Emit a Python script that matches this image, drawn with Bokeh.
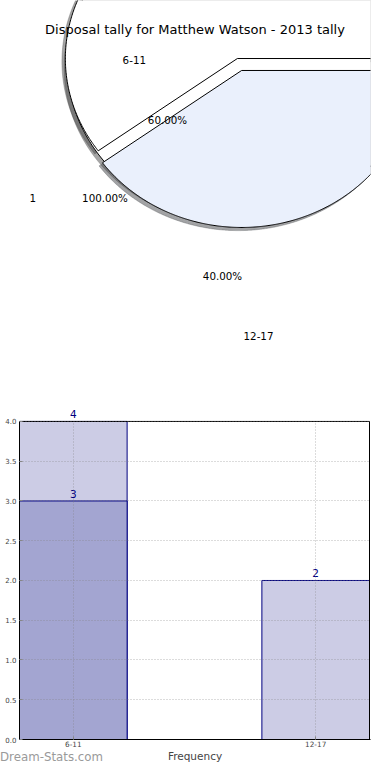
import numpy as np
from bokeh.plotting import figure
from bokeh.models import (ColumnDataSource, Range1d, FixedTicker, LabelSet, Div,
                          NumeralTickFormatter)
from bokeh.layouts import column
from bokeh.embed import file_html
from bokeh.resources import INLINE
from bokeh.core.properties import value

# ---------------- data ----------------
title_text = "Disposal tally for Matthew Watson - 2013 tally"
base_pie_labels = ["1"]
base_pie_values = [1]
base_pie_pct = ["100.00%"]
pie_labels = ["6-11", "12-17"]
pie_values = [3, 2]
pie_pct = ["60.00%", "40.00%"]
pie_colors = ["#FFFFFF", "#EAF0FC"]

bar_categories = ["6-11", "12-17"]
bar_light_values = [4, 2]
bar_dark_values = [3, 0]
y_ticks = [0.0, 0.5, 1.0, 1.5, 2.0, 2.5, 3.0, 3.5, 4.0]
x_label = "Frequency"
watermark = "Dream-Stats.com"

FONT = "DejaVu Sans"

# ---------------- layout constants (pixels) ----------------
W = 374
TOTAL_H = 764
FRAME_L, FRAME_R = 19, 370          # plot frame left / right
AX_TOP, AX_BOT = 421, 740           # y = max tick / y = 0
HEADROOM = 17                       # room above the axes box for value labels
H1 = AX_TOP - HEADROOM              # pie figure height
H2 = TOTAL_H - H1

# ---------------- pie figure ----------------
p1 = figure(width=W, height=H1, x_range=Range1d(FRAME_L, FRAME_R), y_range=Range1d(H1, 0),
            output_backend="svg", toolbar_location=None,
            min_border_left=FRAME_L, min_border_right=W - FRAME_R, min_border_top=0,
            min_border_bottom=0, x_axis_type=None, y_axis_type=None, outline_line_color=None)
p1.grid.visible = False

CX, CY, RA, RB = 239.0, 64.0, 172.0, 157.0
EXPLODE = 0.04
SH_DX, SH_DY = -0.02 * RA, 0.02 * RB


def wedge_polys(values, explode):
    vals = np.asarray(values, float)
    fr = vals / vals.sum()
    bounds = np.concatenate([[0.0], np.cumsum(fr)]) * 2 * np.pi
    xs, ys = [], []
    for t0, t1 in zip(bounds[:-1], bounds[1:]):
        mid = 0.5 * (t0 + t1)
        ox = CX + explode * RA * np.cos(mid)
        oy = CY - explode * RB * np.sin(mid)
        t = np.linspace(t0, t1, 400)
        px = ox + RA * np.cos(t)
        py = oy - RB * np.sin(t)
        if (t1 - t0) < 2 * np.pi - 1e-9:
            px = np.concatenate([[ox], px])
            py = np.concatenate([[oy], py])
        xs.append(px.tolist())
        ys.append(py.tolist())
    return xs, ys


def shade(c):
    c = c.lstrip("#")
    r, g, b = (int(c[i:i + 2], 16) for i in (0, 2, 4))
    return "#%02x%02x%02x" % (int(0.3 * r), int(0.3 * g), int(0.3 * b))


bx, by = wedge_polys(base_pie_values, 0.0)
wx, wy = wedge_polys(pie_values, EXPLODE)

# shadows (drawn under every wedge)
sh_xs = [[v + SH_DX for v in xx] for xx in bx + wx]
sh_ys = [[v + SH_DY for v in yy] for yy in by + wy]
sh_cols = [shade("#FFFFFF")] + [shade(c) for c in pie_colors]
p1.patches(xs="xs", ys="ys", fill_color="c", fill_alpha=0.5, line_color="c", line_alpha=0.3,
           line_width=1, source=ColumnDataSource(dict(xs=sh_xs, ys=sh_ys, c=sh_cols)))

p1.patches(xs=bx, ys=by, fill_color="#FFFFFF", line_color="black", line_width=1)
p1.patches(xs="xs", ys="ys", fill_color="c", line_color="black", line_width=1,
           source=ColumnDataSource(dict(xs=wx, ys=wy, c=pie_colors)))

# pie texts (positions as drawn in the original)
txt = base_pie_labels + base_pie_pct + pie_labels + pie_pct
txt_x = [32.3, 104.5, 133.8, 258.0, 167.0, 222.0]
txt_y = [197.0, 197.0, 59.8, 335.3, 119.3, 275.8]
p1.text(x=txt_x, y=txt_y, text=txt, text_font=value(FONT), text_font_size="10.3px",
        text_align="center", text_baseline="alphabetic", text_color="black")
p1.text(x=[194.5], y=[29.3], text=[title_text], text_font=value(FONT), text_font_size="13px",
        text_align="center", text_baseline="alphabetic", text_color="black")

# ---------------- bar figure ----------------
BAR_W = 0.444
pos = np.arange(len(bar_categories), dtype=float)
ymax = max(y_ticks)
px_per_unit = (AX_BOT - AX_TOP) / ymax
x0 = pos[0] - BAR_W / 2
x1 = pos[-1] + BAR_W / 2
x_pad = (x1 - x0) / (FRAME_R - FRAME_L)   # about one pixel
p2 = figure(width=W, height=H2,
            x_range=Range1d(x0, x1 + x_pad),
            y_range=Range1d(0, ymax + HEADROOM / px_per_unit),
            output_backend="svg", toolbar_location=None,
            min_border_left=FRAME_L, min_border_right=W - FRAME_R, min_border_top=0,
            min_border_bottom=H1 + H2 - AX_BOT,
            outline_line_color=None)

p2.vbar(x=pos, top=bar_light_values, width=BAR_W, fill_color="#CCCCE5",
        line_color="#000080", line_width=1)
dark_idx = [i for i, v in enumerate(bar_dark_values) if v > 0]
p2.vbar(x=[pos[i] for i in dark_idx], top=[bar_dark_values[i] for i in dark_idx], width=BAR_W,
        fill_color="#A3A5D1", line_color="#000080", line_width=1)

# axes box (0 .. max tick)
p2.quad(left=[x0], right=[x1], bottom=[0], top=[ymax], fill_color=None,
        line_color="black", line_width=1)

lab_x = list(pos) + [pos[i] for i in dark_idx]
lab_y = list(bar_light_values) + [bar_dark_values[i] for i in dark_idx]
lab_t = [str(v) for v in lab_y]
p2.add_layout(LabelSet(x="x", y="y", text="t", source=ColumnDataSource(dict(x=lab_x, y=lab_y, t=lab_t)),
                       text_font=value(FONT), text_font_size="10.5px", text_color="#000080",
                       text_align="center", text_baseline="alphabetic", y_offset=3))

xa = p2.xaxis[0]
xa.ticker = FixedTicker(ticks=list(pos))
xa.major_label_overrides = {int(i): c for i, c in enumerate(bar_categories)}
xa.axis_label = x_label
xa.axis_label_text_font = FONT
xa.axis_label_text_font_size = "10.5px"
xa.axis_label_text_font_style = "normal"
xa.axis_label_standoff = 0
xa.major_label_standoff = 1
xa.major_label_text_font = FONT
xa.major_label_text_font_size = "7.3px"
xa.major_tick_in = 3
xa.major_tick_out = 0
xa.major_tick_line_color = "#888888"
xa.axis_line_color = "black"

ya = p2.yaxis[0]
ya.ticker = FixedTicker(ticks=y_ticks)
ya.formatter = NumeralTickFormatter(format="0.0")
ya.bounds = (0, ymax)
ya.major_label_text_font = FONT
ya.major_label_text_font_size = "7px"
ya.major_label_standoff = 3
ya.major_tick_in = 3
ya.major_tick_out = 0
ya.major_tick_line_color = "#888888"
ya.axis_line_color = "black"

xg, yg = p2.xgrid[0], p2.ygrid[0]
for g in (xg, yg):
    g.grid_line_color = "#808080"
    g.grid_line_alpha = 0.55
    g.grid_line_dash = "1 2"
    g.grid_line_width = 1
    g.level = "overlay"
try:
    xg.cross_bounds = (0, ymax)
except Exception:
    xg.visible = False
    p2.segment(x0=list(pos), x1=list(pos), y0=[0] * len(pos), y1=[ymax] * len(pos),
               line_color="#808080", line_alpha=0.55, line_dash="1 2", line_width=1)

wm = Div(text=watermark, width=120, height=14, margin=(-14, 0, 0, 0),
         styles={"font-family": FONT, "font-size": "11.8px", "color": "#9a9a9a",
                 "line-height": "14px", "white-space": "nowrap"})

layout = column(p1, p2, wm)
open("out.html", "w").write(file_html(layout, INLINE))
